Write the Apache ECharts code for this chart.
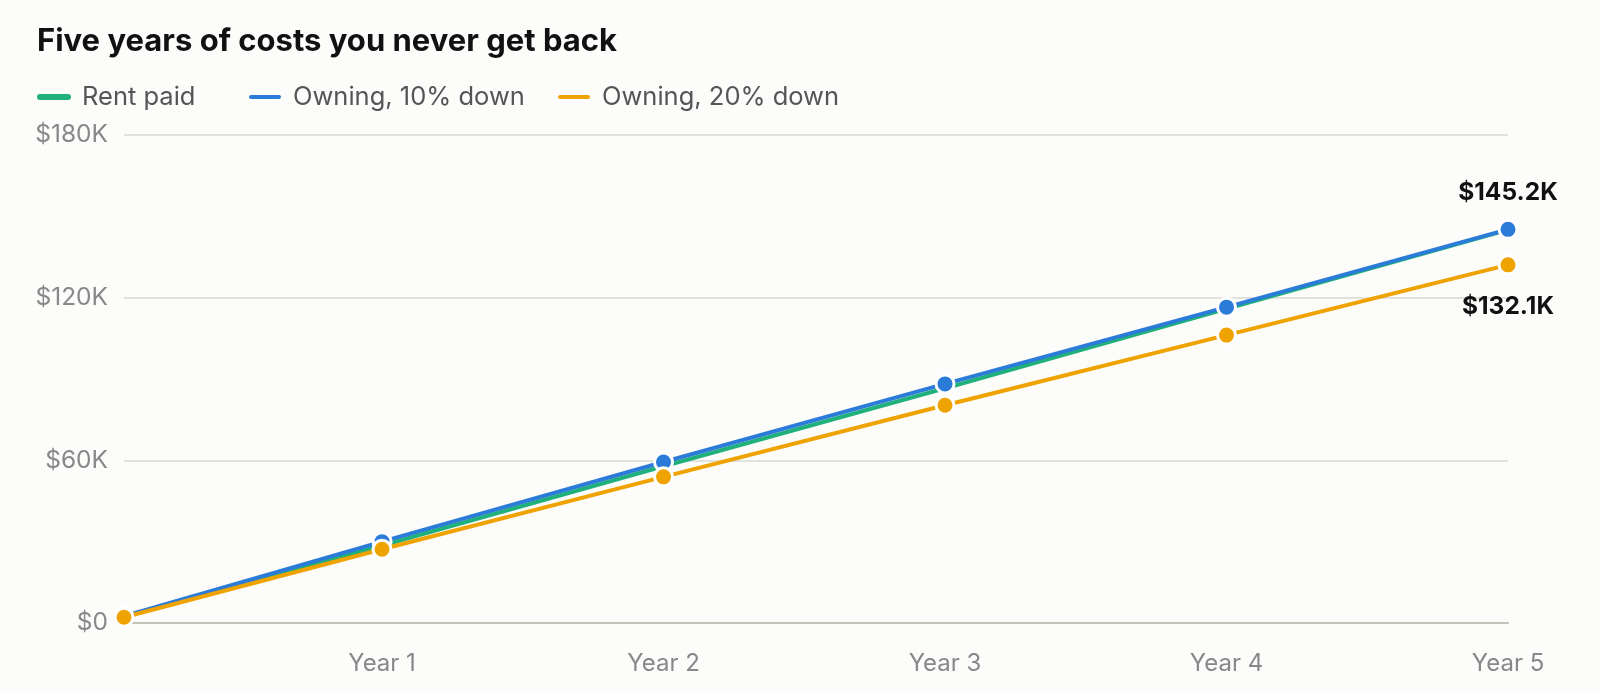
<!DOCTYPE html>
<html>
<head>
<meta charset="utf-8">
<script src="https://cdn.jsdelivr.net/npm/echarts@6/dist/echarts.min.js"></script>
<style>
  html, body { margin: 0; padding: 0; background: #fcfcfb; }
  #chart { width: 1600px; height: 692px; }
</style>
</head>
<body>
<div id="chart"></div>
<script>
// Months elapsed (month 1 through month 60)
const months = [1, 12, 24, 36, 48, 60];
const tickMonths = [12, 24, 36, 48, 60];
const tickLabels = ['Year 1', 'Year 2', 'Year 3', 'Year 4', 'Year 5'];
const seriesNames = ['Rent paid', 'Owning, 10% down', 'Owning, 20% down'];
// Cumulative cost, thousands of dollars
const rentPaid = [2.3, 28.6, 57.8, 86.6, 115.9, 145.0];
const owning10 = [2.5, 30.0, 59.4, 88.2, 116.5, 145.2];
const owning20 = [2.1, 27.2, 53.9, 80.3, 106.2, 132.1];
const yTicks = [0, 60, 120, 180];

const colors = ['#1fb07c', '#2b7bd8', '#eea300'];
const fontFam = 'Inter, "Noto Sans", sans-serif';

function pairs(vals) { return months.map((m, i) => [m, vals[i]]); }

const pill = 'path://M3,0 L31,0 A3,3 0 0 1 31,6 L3,6 A3,3 0 0 1 3,0 Z';
function legendAt(left, name) {
  return {
    data: [name], left: left, top: 84, icon: pill,
    itemWidth: 34, itemHeight: 6, itemGap: 0, padding: 0,
    textStyle: { fontFamily: fontFam, fontSize: 25.5, color: '#555', padding: [0, 0, 0, 6] },
    selectedMode: false
  };
}

const chart = echarts.init(document.getElementById('chart'));
const lastIdx = months.length - 1;

chart.setOption({
  backgroundColor: '#fcfcfb',
  animation: false,
  title: {
    text: 'Five years of costs you never get back',
    left: 37, top: 26, padding: 0,
    textStyle: { fontFamily: fontFam, fontSize: 31, fontWeight: 'bold', color: '#111' }
  },
  legend: [legendAt(37, seriesNames[0]), legendAt(247, seriesNames[1]), legendAt(556, seriesNames[2])],
  grid: { left: 124, right: 92, top: 135, bottom: 69, containLabel: false },
  xAxis: {
    type: 'value', min: 1, max: 60,
    axisLine: { show: true, lineStyle: { color: '#c3c4b8', width: 2 } },
    axisTick: { show: false },
    splitLine: { show: false },
    axisLabel: {
      customValues: tickMonths,
      formatter: v => tickLabels[tickMonths.indexOf(v)] || '',
      fontFamily: fontFam, fontSize: 24, color: '#888', margin: 29
    }
  },
  yAxis: {
    type: 'value', min: 0, max: 180, interval: 60,
    axisLine: { show: false }, axisTick: { show: false },
    splitLine: { lineStyle: { color: '#e2e2dc', width: 2 } },
    axisLabel: {
      formatter: v => '$' + v + (v === 0 ? '' : 'K'),
      fontFamily: fontFam, fontSize: 24.5, color: '#888', margin: 16
    }
  },
  series: [
    {
      name: seriesNames[0], type: 'line', data: pairs(rentPaid),
      color: colors[0], lineStyle: { width: 4, color: colors[0] },
      showSymbol: false, symbol: 'circle', z: 2
    },
    {
      name: seriesNames[1], type: 'line', data: pairs(owning10),
      color: colors[1], lineStyle: { width: 4, color: colors[1] },
      symbol: 'circle', symbolSize: 18,
      itemStyle: { color: colors[1], borderColor: '#fff', borderWidth: 3 },
      label: {
        show: true, position: 'top', distance: 14,
        formatter: p => p.dataIndex === lastIdx ? '$' + owning10[lastIdx].toFixed(1) + 'K' : '',
        fontFamily: fontFam, fontSize: 24.5, fontWeight: 'bold', color: '#111'
      },
      z: 3
    },
    {
      name: seriesNames[2], type: 'line', data: pairs(owning20),
      color: colors[2], lineStyle: { width: 4, color: colors[2] },
      symbol: 'circle', symbolSize: 18,
      itemStyle: { color: colors[2], borderColor: '#fff', borderWidth: 3 },
      label: {
        show: true, position: 'bottom', distance: 19,
        formatter: p => p.dataIndex === lastIdx ? '$' + owning20[lastIdx].toFixed(1) + 'K' : '',
        fontFamily: fontFam, fontSize: 24.5, fontWeight: 'bold', color: '#111'
      },
      z: 4
    }
  ]
});
</script>
</body>
</html>
